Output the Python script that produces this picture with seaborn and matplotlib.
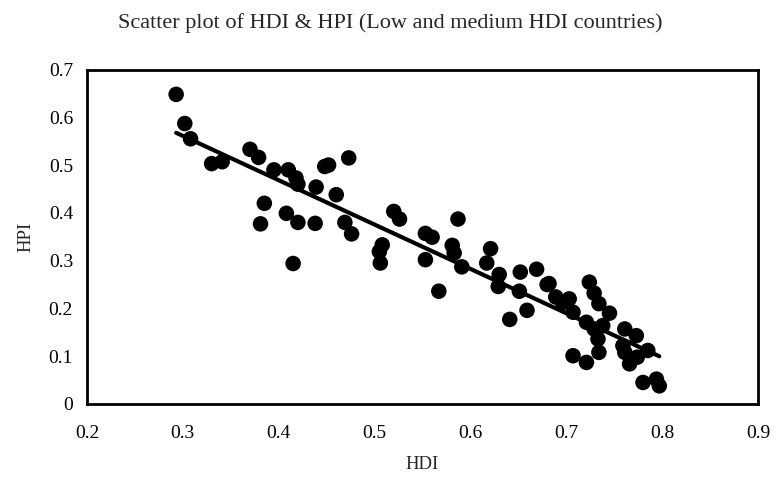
import numpy as np
import pandas as pd
import matplotlib
matplotlib.use("Agg")
import matplotlib.pyplot as plt
import seaborn as sns
from matplotlib.ticker import FuncFormatter

# HDI / HPI values
hdi = [
    0.293, 0.302, 0.308, 0.330, 0.341, 0.370, 0.379, 0.395, 0.410, 0.418,
    0.420, 0.448, 0.452, 0.473, 0.439, 0.460, 0.385, 0.381, 0.408, 0.420,
    0.438, 0.469, 0.476, 0.415, 0.520, 0.526, 0.587, 0.508, 0.505, 0.506,
    0.553, 0.560, 0.553, 0.567, 0.581, 0.583, 0.591, 0.621, 0.617, 0.630,
    0.629, 0.652, 0.669, 0.651, 0.641, 0.659, 0.680, 0.682, 0.689, 0.703,
    0.707, 0.696, 0.724, 0.729, 0.734, 0.745, 0.721, 0.729, 0.738, 0.733,
    0.734, 0.707, 0.721, 0.761, 0.773, 0.759, 0.761, 0.766, 0.774, 0.785,
    0.780, 0.794, 0.797,
]
hpi = [
    0.648, 0.587, 0.555, 0.503, 0.507, 0.533, 0.516, 0.490, 0.490, 0.473,
    0.460, 0.497, 0.500, 0.515, 0.454, 0.438, 0.420, 0.377, 0.399, 0.380,
    0.378, 0.380, 0.356, 0.294, 0.403, 0.387, 0.387, 0.333, 0.319, 0.295,
    0.357, 0.349, 0.302, 0.236, 0.332, 0.316, 0.287, 0.325, 0.295, 0.271,
    0.246, 0.276, 0.282, 0.236, 0.177, 0.196, 0.250, 0.252, 0.224, 0.220,
    0.192, 0.212, 0.255, 0.232, 0.210, 0.190, 0.171, 0.157, 0.164, 0.136,
    0.108, 0.101, 0.087, 0.157, 0.143, 0.122, 0.108, 0.084, 0.098, 0.112,
    0.045, 0.052, 0.038,
]
x_ticks = [0.2, 0.3, 0.4, 0.5, 0.6, 0.7, 0.8, 0.9]
y_ticks = [0, 0.1, 0.2, 0.3, 0.4, 0.5, 0.6, 0.7]

df = pd.DataFrame({"HDI": hdi, "HPI": hpi})

sns.set_style("white")
plt.rcParams["font.family"] = ["Liberation Serif", "DejaVu Serif"]

fig = plt.figure(figsize=(7.81, 4.83), dpi=100)
ax = fig.add_axes([0.1114, 0.1636, 0.8592, 0.6925])

sns.regplot(
    data=df, x="HDI", y="HPI", ax=ax, ci=None,
    scatter_kws=dict(s=125, color="black", edgecolor="none", alpha=1),
    line_kws=dict(color="black", lw=3),
)

ax.set_xlim(0.2, 0.9)
ax.set_ylim(0, 0.7)
ax.set_xticks(x_ticks)
ax.set_yticks(y_ticks)
fmt = FuncFormatter(lambda v, p: f"{v:g}")
ax.xaxis.set_major_formatter(fmt)
ax.yaxis.set_major_formatter(fmt)
ax.tick_params(direction="in", length=4, width=1, labelsize=14, colors="black")
ax.tick_params(axis="x", pad=15)
ax.tick_params(axis="y", pad=10)
for s in ax.spines.values():
    s.set_linewidth(2)
    s.set_color("black")

ax.set_xlabel("HDI", fontsize=13.5, labelpad=10)
ax.set_ylabel("HPI", fontsize=13.5, labelpad=10)
fig.suptitle("Scatter plot of HDI & HPI (Low and medium HDI countries)",
             fontsize=16, x=0.5, y=0.972)

fig.savefig("out.png", dpi=100)
